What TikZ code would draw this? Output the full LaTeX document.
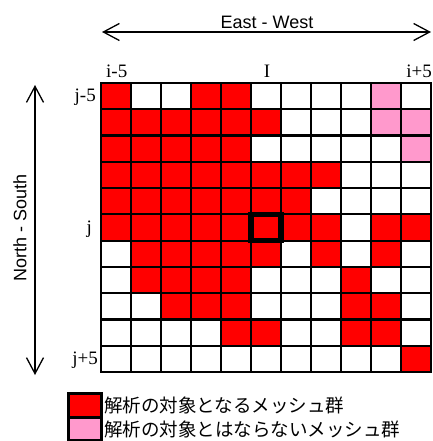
\documentclass[tikz,border=0pt]{standalone}
\usepackage{fontspec}
\setmainfont{Liberation Serif}
\newfontfamily\sansf{Liberation Sans}
\newfontfamily\cjk{Noto Sans CJK JP}
\usetikzlibrary{arrows.meta}
\definecolor{cR}{HTML}{FF0000}
\definecolor{cP}{HTML}{FF99CC}
\colorlet{cW}{white}
\tikzset{
  cellbox/.style={draw=black, line width=2.2pt},
  axislabel/.style={font=\sansf\fontsize{18}{18}\selectfont, inner sep=0pt},
  idxlabel/.style={font=\fontsize{19}{19}\selectfont, inner sep=0pt},
  leglabel/.style={font=\cjk\fontsize{18.5}{18.5}\selectfont, inner sep=0pt, anchor=west},
  dirarrow/.style={line width=1.3pt, {Straight Barb[length=16pt,width=17pt]}-{Straight Barb[length=16pt,width=17pt]}},
}
\begin{document}
\begin{tikzpicture}[x=1pt,y=-1pt]
\useasboundingbox (0,0) rectangle (432,441);
\def\cw{30}
\def\ch{26.273}
\foreach \row [count=\r from 0] in {
 {R,W,W,R,R,W,W,W,W,P,W},
 {R,R,R,R,R,R,W,W,W,P,P},
 {R,R,R,R,R,W,W,W,W,W,P},
 {R,R,R,R,R,R,R,R,W,W,W},
 {R,R,R,R,R,R,R,W,W,W,W},
 {R,R,R,R,R,R,R,R,W,R,R},
 {W,R,R,R,R,R,W,R,W,R,W},
 {W,R,R,R,R,W,W,W,R,W,W},
 {W,W,R,R,R,W,W,W,R,R,W},
 {W,W,W,W,R,R,W,W,R,R,W},
 {W,W,W,W,W,W,W,W,W,W,R}} {
  \foreach \c [count=\k from 0] in \row {
    \filldraw[cellbox, fill=c\c] (101+\cw*\k, 83+\ch*\r) rectangle ++(\cw,\ch);
  }
}
% centre cell
\draw[line width=5.5pt] (101+5*\cw, 83+5*\ch) rectangle ++(\cw,\ch);

% column / row labels
\node[idxlabel, anchor=base west] (im5) at (106,78) {i-5};
\node[idxlabel, anchor=base] (icen) at (267,78) {I};
\node[idxlabel, anchor=base east] (ip5) at (432,78) {i+5};
\node[idxlabel, anchor=base east] (jm5) at (96,102) {j-5};
\node[idxlabel, anchor=base east] (jcen) at (92,233) {j};
\node[idxlabel, anchor=base east] (jp5) at (98,364) {j+5};

% direction arrows
\coordinate (ewL) at (102,32);
\coordinate (ewR) at (431,32);
\draw[dirarrow] (ewL) -- (ewR);
\node[axislabel] (ew) at (267,22) {East - West};
\coordinate (nsT) at (35,85);
\coordinate (nsB) at (35,375);
\draw[dirarrow] (nsT) -- (nsB);
\node[axislabel, rotate=90] (ns) at (20,228) {North - South};

% legend
\filldraw[line width=3pt, fill=cR] (68,393) rectangle (101,417);
\filldraw[line width=3pt, fill=cP] (68,417) rectangle (101,440);
\node[leglabel] (l1) at (104,405) {解析の対象となるメッシュ群};
\node[leglabel] (l2) at (104,429.5) {解析の対象とはならないメッシュ群};
\end{tikzpicture}
\end{document}
